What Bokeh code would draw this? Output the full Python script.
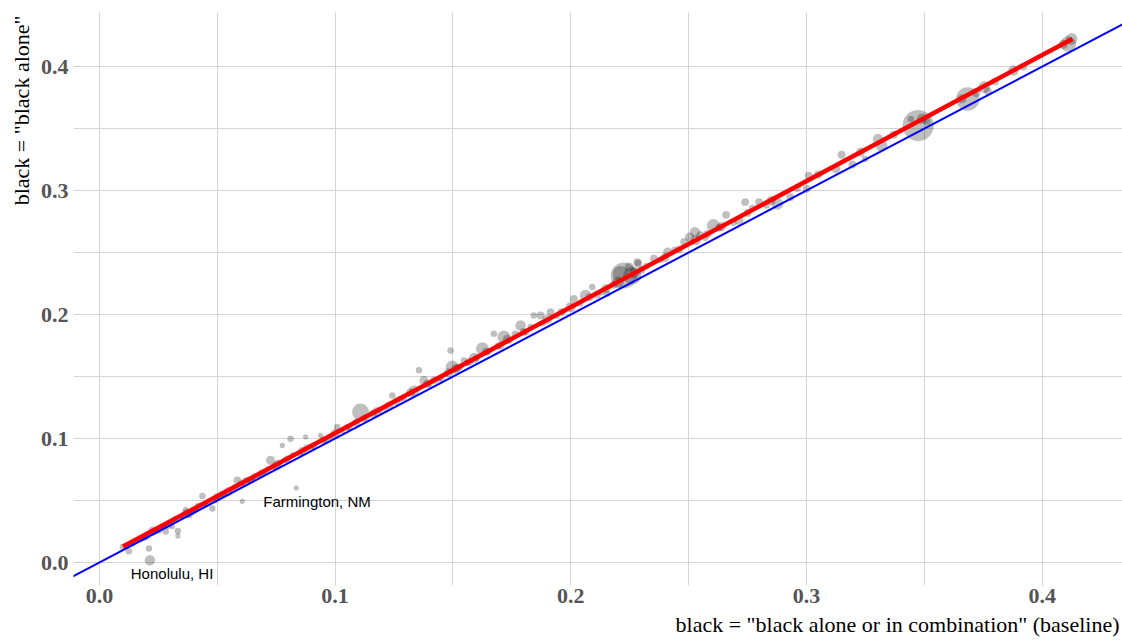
from bokeh.plotting import figure
from bokeh.models import Slope, SingleIntervalTicker, PrintfTickFormatter, ColumnDataSource, Range1d, Title
from bokeh.core.properties import value
from bokeh.embed import file_html
from bokeh.resources import INLINE

# share "black alone or in combination" (baseline)
x_baseline = [0.0125, 0.0100, 0.0140, 0.0175, 0.0200, 0.0210, 0.0214, 0.0230, 0.0250, 0.0265,
              0.0281, 0.0300, 0.0310, 0.0333, 0.0333, 0.0350, 0.0366, 0.0380, 0.0395, 0.0410,
              0.0437, 0.0450, 0.0479, 0.0490, 0.0510, 0.0530, 0.0560, 0.0585, 0.0606, 0.0620,
              0.0640, 0.0660, 0.0680, 0.0700, 0.0726, 0.0740, 0.0760, 0.0776, 0.0790, 0.0811,
              0.0820, 0.0835, 0.0850, 0.0875, 0.0880, 0.0910, 0.0938, 0.0960, 0.0980, 0.1009,
              0.1030, 0.1060, 0.1108, 0.1130, 0.1160, 0.1190, 0.1215, 0.1243, 0.1260, 0.1290,
              0.1320, 0.1356, 0.1377, 0.1400, 0.1420, 0.1450, 0.1470, 0.1490, 0.1497, 0.1510,
              0.1530, 0.1546, 0.1570, 0.1600, 0.1625, 0.1650, 0.1674, 0.1700, 0.1716, 0.1740,
              0.1765, 0.1787, 0.1810, 0.1843, 0.1872, 0.1880, 0.1914, 0.1940, 0.1970, 0.2013,
              0.2040, 0.2063, 0.2091, 0.2110, 0.2130, 0.2155, 0.2180, 0.2211, 0.2225, 0.2261,
              0.2248, 0.2282, 0.2287, 0.2320, 0.2353, 0.2380, 0.2411, 0.2440, 0.2481, 0.2504,
              0.2527, 0.2550, 0.2570, 0.2605, 0.2630, 0.2659, 0.2690, 0.2714, 0.2740, 0.2770,
              0.2799, 0.2830, 0.2877, 0.2931, 0.3001, 0.3009, 0.3125, 0.3149, 0.3195, 0.3249,
              0.3304, 0.3319, 0.3443, 0.3474, 0.3510, 0.3684, 0.3720, 0.3754, 0.3770, 0.3878,
              0.4111, 0.4125,
              0.0160, 0.0190, 0.0225, 0.0240, 0.0270, 0.0290, 0.0320, 0.0345, 0.0372, 0.0400,
              0.0420, 0.0445, 0.0465, 0.0500, 0.0520, 0.0545, 0.0575, 0.0600, 0.0630, 0.0650,
              0.0690, 0.0715, 0.0750, 0.0800, 0.0860, 0.0900, 0.0950, 0.1000, 0.1050, 0.1090,
              0.1120, 0.1175, 0.1230, 0.1275, 0.1335, 0.1390, 0.1440, 0.1480, 0.1520, 0.1560,
              0.1590, 0.1640, 0.1690, 0.1730, 0.1800, 0.1830, 0.1900, 0.1960, 0.2000, 0.2080,
              0.2150, 0.2200, 0.2270, 0.2300, 0.2400, 0.2460, 0.2530, 0.2580, 0.2640, 0.2750,
              0.2850, 0.2960, 0.3050, 0.3230, 0.3370, 0.3490, 0.3660, 0.3800, 0.3920, 0.4090]
# share "black alone"
y_alone = [0.0091, 0.0125, 0.0150, 0.0190, 0.0215, 0.0113, 0.0019, 0.0245, 0.0262, 0.0280,
           0.0250, 0.0320, 0.0290, 0.0255, 0.0215, 0.0375, 0.0421, 0.0390, 0.0410, 0.0430,
           0.0537, 0.0470, 0.0435, 0.0510, 0.0530, 0.0545, 0.0590, 0.0663, 0.0494, 0.0650,
           0.0670, 0.0690, 0.0700, 0.0730, 0.0824, 0.0770, 0.0800, 0.0945, 0.0830, 0.0999,
           0.0870, 0.0602, 0.0880, 0.1013, 0.0920, 0.0940, 0.1026, 0.0990, 0.1010, 0.1093,
           0.1060, 0.1090, 0.1214, 0.1170, 0.1200, 0.1230, 0.1230, 0.1348, 0.1300, 0.1330,
           0.1370, 0.1550, 0.1469, 0.1440, 0.1470, 0.1490, 0.1520, 0.1710, 0.1577, 0.1560,
           0.1580, 0.1630, 0.1620, 0.1650, 0.1724, 0.1700, 0.1845, 0.1750, 0.1819, 0.1790,
           0.1840, 0.1912, 0.1860, 0.1993, 0.1993, 0.1930, 0.2020, 0.1990, 0.2030, 0.2127,
           0.2090, 0.2154, 0.2222, 0.2160, 0.2180, 0.2168, 0.2240, 0.2329, 0.2315, 0.2315,
           0.2383, 0.2423, 0.2410, 0.2390, 0.2450, 0.2440, 0.2504, 0.2520, 0.2585, 0.2625,
           0.2665, 0.2640, 0.2620, 0.2718, 0.2700, 0.2804, 0.2740, 0.2758, 0.2907, 0.2860,
           0.2907, 0.2880, 0.2893, 0.2947, 0.3014, 0.3121, 0.3175, 0.3289, 0.3210, 0.3255,
           0.3417, 0.3363, 0.3578, 0.3524, 0.3560, 0.3739, 0.3790, 0.3834, 0.3800, 0.3968,
           0.4182, 0.4223,
           0.0185, 0.0200, 0.0260, 0.0265, 0.0290, 0.0300, 0.0345, 0.0365, 0.0395, 0.0420,
           0.0450, 0.0465, 0.0490, 0.0530, 0.0555, 0.0570, 0.0610, 0.0630, 0.0665, 0.0680,
           0.0720, 0.0750, 0.0780, 0.0840, 0.0900, 0.0935, 0.0985, 0.1040, 0.1090, 0.1130,
           0.1160, 0.1215, 0.1270, 0.1320, 0.1385, 0.1440, 0.1480, 0.1530, 0.1570, 0.1610,
           0.1650, 0.1700, 0.1745, 0.1800, 0.1860, 0.1900, 0.1960, 0.2020, 0.2060, 0.2140,
           0.2210, 0.2260, 0.2335, 0.2360, 0.2460, 0.2525, 0.2600, 0.2650, 0.2710, 0.2820,
           0.2920, 0.3020, 0.3130, 0.3310, 0.3450, 0.3580, 0.3740, 0.3880, 0.4000, 0.4180]
# relative metro population (marker weight)
pop_weight = [5, 5, 4, 5, 6, 5, 8, 5, 6, 4,
              5, 5, 4, 5, 4, 4, 5, 6, 5, 5,
              5, 4, 5, 6, 5, 4, 5, 6, 4, 7,
              5, 6, 4, 5, 7, 5, 6, 4, 5, 5,
              4, 4, 5, 4, 6, 5, 4, 5, 5, 5,
              4, 5, 13, 5, 6, 5, 4, 5, 6, 5,
              7, 5, 7, 5, 6, 5, 4, 5, 10, 7,
              5, 5, 6, 5, 10, 5, 5, 6, 10, 5,
              6, 8, 5, 5, 6, 5, 6, 5, 4, 6,
              5, 9, 5, 6, 5, 5, 6, 12, 20, 14,
              7, 6, 6, 5, 6, 5, 7, 5, 6, 7,
              8, 6, 5, 10, 6, 6, 5, 7, 6, 5,
              6, 5, 9, 6, 6, 6, 7, 6, 6, 5,
              8, 9, 5, 24, 6, 18, 7, 9, 6, 8,
              12, 9,
              4, 5, 6, 4, 5, 6, 5, 4, 7, 5,
              6, 5, 4, 6, 5, 7, 5, 6, 5, 4,
              6, 5, 7, 5, 6, 5, 6, 7, 5, 6,
              5, 7, 6, 5, 8, 6, 5, 7, 6, 5,
              8, 6, 5, 7, 6, 5, 7, 6, 8, 6,
              7, 9, 8, 6, 7, 6, 8, 6, 7, 6,
              7, 6, 6, 7, 6, 8, 7, 6, 6, 7]

# linear fit (red) end points
fit_x = [0.0100, 0.4128]
fit_y = [0.0129, 0.4223]

# annotated metros
label_names = ["Honolulu, HI", "Farmington, NM"]
label_x = [0.0133, 0.0695]
label_y = [-0.0085, 0.0496]

x_title = 'black = "black alone or in combination" (baseline)'
y_title = 'black = "black alone"'

marker_size = [w * 1.3 for w in pop_weight]
src = ColumnDataSource(dict(x=x_baseline, y=y_alone, s=marker_size))

p = figure(width=1122, height=641, output_backend="svg", toolbar_location=None,
           x_range=Range1d(-0.0110, 0.4341), y_range=Range1d(-0.0185, 0.4436),
           min_border_left=73, min_border_right=0, min_border_top=12, min_border_bottom=55)
p.outline_line_color = None
p.background_fill_color = "white"
p.border_fill_color = "white"

for ax in (p.xaxis[0], p.yaxis[0]):
    ax.ticker = SingleIntervalTicker(interval=0.1, num_minor_ticks=2)
    ax.formatter = PrintfTickFormatter(format="%.1f")
    ax.axis_line_color = None
    ax.major_tick_line_color = None
    ax.minor_tick_line_color = None
    ax.major_tick_out = 0
    ax.major_tick_in = 0
    ax.minor_tick_out = 0
    ax.minor_tick_in = 0
    ax.major_label_text_font = "Liberation Serif"
    ax.major_label_text_font_style = "bold"
    ax.major_label_text_font_size = "22px"
    ax.major_label_text_color = "#555555"

p.xaxis.major_label_standoff = 3
p.yaxis.major_label_standoff = 5

for g in (p.xgrid[0], p.ygrid[0]):
    g.grid_line_color = "#d4d4d4"
    g.grid_line_width = 1
    g.minor_grid_line_color = "#d4d4d4"
    g.minor_grid_line_width = 1

p.scatter("x", "y", size="s", source=src, fill_color="#000000", fill_alpha=0.25,
          line_color=None)

p.add_layout(Slope(gradient=1, y_intercept=0, line_color="#0000ff", line_width=2))
p.line(fit_x, fit_y, line_color="#ff0000", line_width=4.5)

p.text(label_x, label_y, text=label_names, text_font=value("Liberation Sans"),
       text_font_size="15px", text_color="#000000", text_baseline="middle", text_align="left")

# axis titles, right / top aligned as in the reference
p.add_layout(Title(text=x_title, align="right", offset=3, standoff=9,
                   text_font="Liberation Serif", text_font_size="22px",
                   text_font_style="normal", text_color="#000000"), "below")
p.add_layout(Title(text=y_title, align="right", offset=3, standoff=7,
                   text_font="Liberation Serif", text_font_size="22px",
                   text_font_style="normal", text_color="#000000"), "left")

open("out.html", "w").write(file_html(p, INLINE))
